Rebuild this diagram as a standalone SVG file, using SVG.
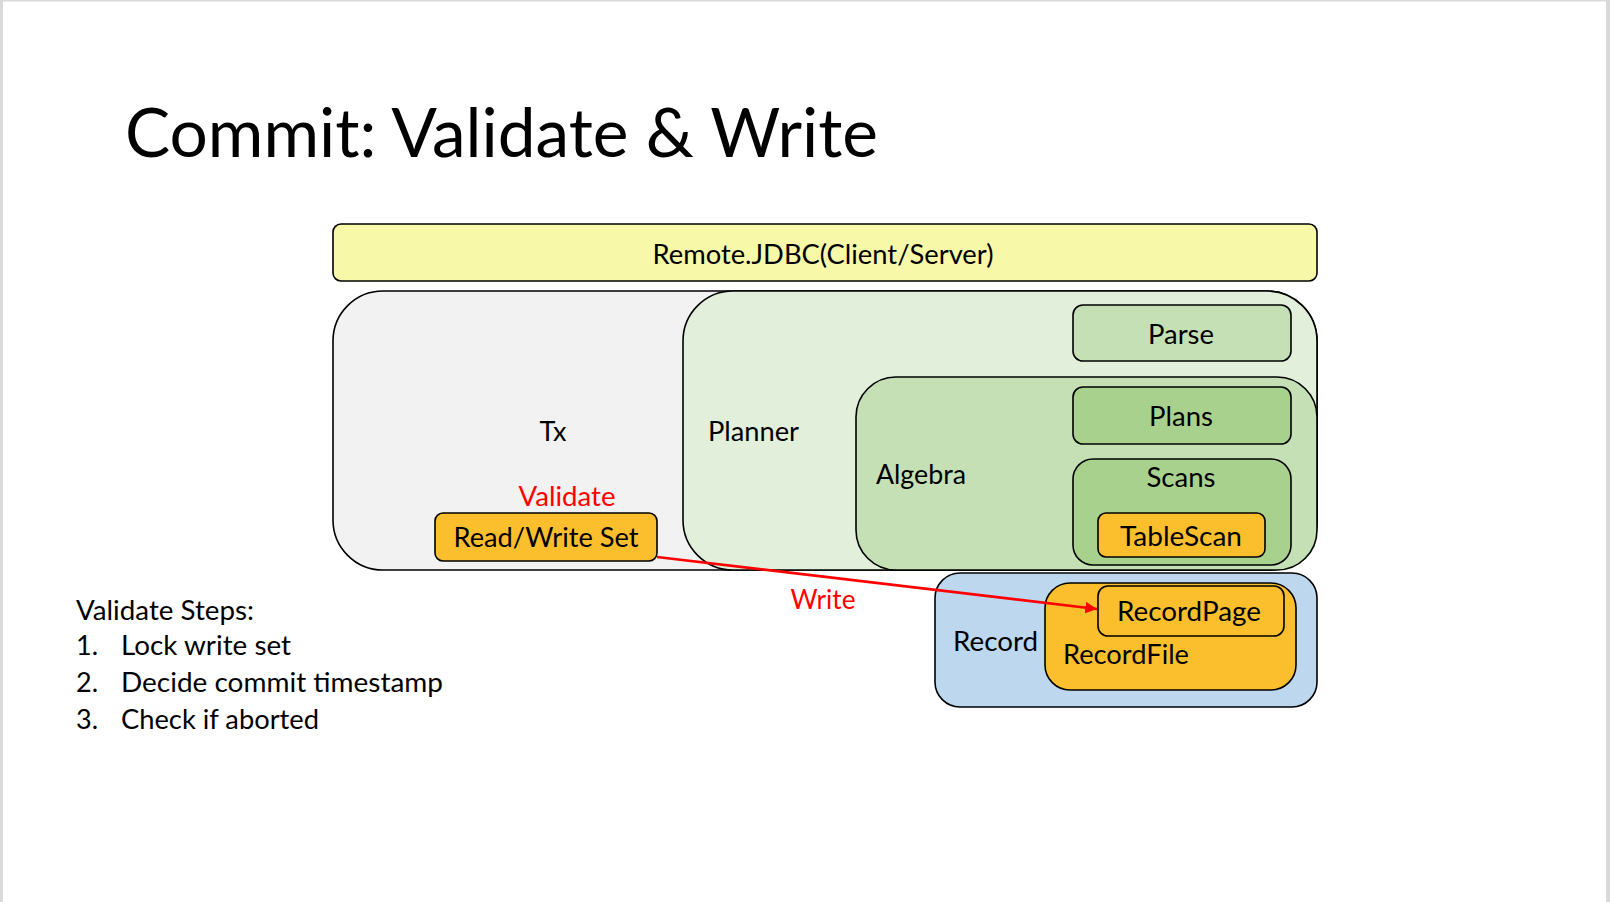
<svg xmlns="http://www.w3.org/2000/svg" width="1610" height="902" viewBox="0 0 1610 902">
<style>
.t{font-family:Lato,"Liberation Sans",sans-serif;font-size:27px;fill:#000}
.r{font-family:Lato,"Liberation Sans",sans-serif;font-size:27px;fill:#ff0000}
.m{text-anchor:middle}
.b{stroke:#000;stroke-width:1.6}
</style>
<defs>
<marker id="ah" viewBox="0 0 10 10" refX="10" refY="5" markerWidth="4.5" markerHeight="4.5" orient="auto" markerUnits="strokeWidth">
<path d="M0,0 L10,5 L0,10 z" fill="#ff0000"/>
</marker>
</defs>
<rect x="0" y="0" width="1610" height="902" fill="#ffffff"/>
<rect x="0" y="0" width="3" height="902" fill="#d9d9d9"/>
<rect x="1606" y="0" width="4" height="902" fill="#d9d9d9"/>
<rect x="0" y="0" width="1610" height="1.5" fill="#d9d9d9"/>
<text x="125" y="157" font-family="Lato,'Liberation Sans',sans-serif" font-size="68" fill="#000" textLength="753" lengthAdjust="spacingAndGlyphs">Commit: Validate &amp; Write</text>
<g id="remote">
<rect class="b" x="333" y="224" width="984" height="57" rx="8" fill="#f7f9a8"/>
<text class="t m" x="823" y="264" textLength="341" lengthAdjust="spacingAndGlyphs">Remote.JDBC(Client/Server)</text>
</g>
<g id="tx">
<rect class="b" x="333" y="291" width="984" height="279" rx="50" fill="#f2f2f2"/>
<text class="t m" x="553" y="441">Tx</text>
</g>
<g id="planner">
<rect class="b" x="683" y="291" width="634" height="279" rx="50" fill="#e2efda"/>
<text class="t" x="708" y="441" textLength="91" lengthAdjust="spacingAndGlyphs">Planner</text>
</g>
<g id="parse">
<rect class="b" x="1073" y="305" width="218" height="56" rx="10" fill="#c5e0b4"/>
<text class="t m" x="1181" y="344" textLength="66" lengthAdjust="spacingAndGlyphs">Parse</text>
</g>
<g id="algebra">
<rect class="b" x="856" y="377" width="461" height="193" rx="40" fill="#c5e0b4"/>
<text class="t" x="876" y="484" textLength="90" lengthAdjust="spacingAndGlyphs">Algebra</text>
</g>
<g id="plans">
<rect class="b" x="1073" y="387" width="218" height="57" rx="10" fill="#a9d18e"/>
<text class="t m" x="1181" y="426" textLength="64" lengthAdjust="spacingAndGlyphs">Plans</text>
</g>
<g id="scans">
<rect class="b" x="1073" y="459" width="218" height="106" rx="20" fill="#a9d18e"/>
<text class="t m" x="1181" y="487" textLength="69" lengthAdjust="spacingAndGlyphs">Scans</text>
</g>
<g id="tablescan">
<rect class="b" x="1098" y="513" width="167" height="44" rx="8" fill="#fbbf2e"/>
<text class="t m" x="1181" y="546" textLength="122" lengthAdjust="spacingAndGlyphs">TableScan</text>
</g>
<g id="record">
<rect class="b" x="935" y="573" width="382" height="134" rx="25" fill="#bdd7ee"/>
<text class="t" x="953" y="651" textLength="85" lengthAdjust="spacingAndGlyphs">Record</text>
</g>
<g id="recordfile">
<rect class="b" x="1045" y="583" width="251" height="107" rx="25" fill="#fbbf2e"/>
<text class="t" x="1063" y="664" textLength="126" lengthAdjust="spacingAndGlyphs">RecordFile</text>
</g>
<g id="recordpage">
<rect class="b" x="1098" y="586" width="186" height="50" rx="10" fill="#fbbf2e"/>
<text class="t m" x="1189" y="621" textLength="144" lengthAdjust="spacingAndGlyphs">RecordPage</text>
</g>
<g id="rwset">
<rect class="b" x="435" y="513" width="222" height="48" rx="8" fill="#fbbf2e"/>
<text class="t m" x="546" y="547" textLength="185" lengthAdjust="spacingAndGlyphs">Read/Write Set</text>
</g>
<g id="connectors">
<line x1="657" y1="557" x2="1097" y2="609" stroke="#ff0000" stroke-width="2.6" marker-end="url(#ah)"/>
</g>
<text class="r m" x="567" y="506" textLength="97" lengthAdjust="spacingAndGlyphs">Validate</text>
<text class="r m" x="823" y="609" textLength="65" lengthAdjust="spacingAndGlyphs">Write</text>
<g id="steps">
<text class="t" x="76" y="620" textLength="178" lengthAdjust="spacingAndGlyphs">Validate Steps:</text>
<text class="t" x="76" y="655">1.</text>
<text class="t" x="121" y="655" textLength="170" lengthAdjust="spacingAndGlyphs">Lock write set</text>
<text class="t" x="76" y="692">2.</text>
<text class="t" x="121" y="692" textLength="322" lengthAdjust="spacingAndGlyphs">Decide commit timestamp</text>
<text class="t" x="76" y="729">3.</text>
<text class="t" x="121" y="729" textLength="198" lengthAdjust="spacingAndGlyphs">Check if aborted</text>
</g>
</svg>
